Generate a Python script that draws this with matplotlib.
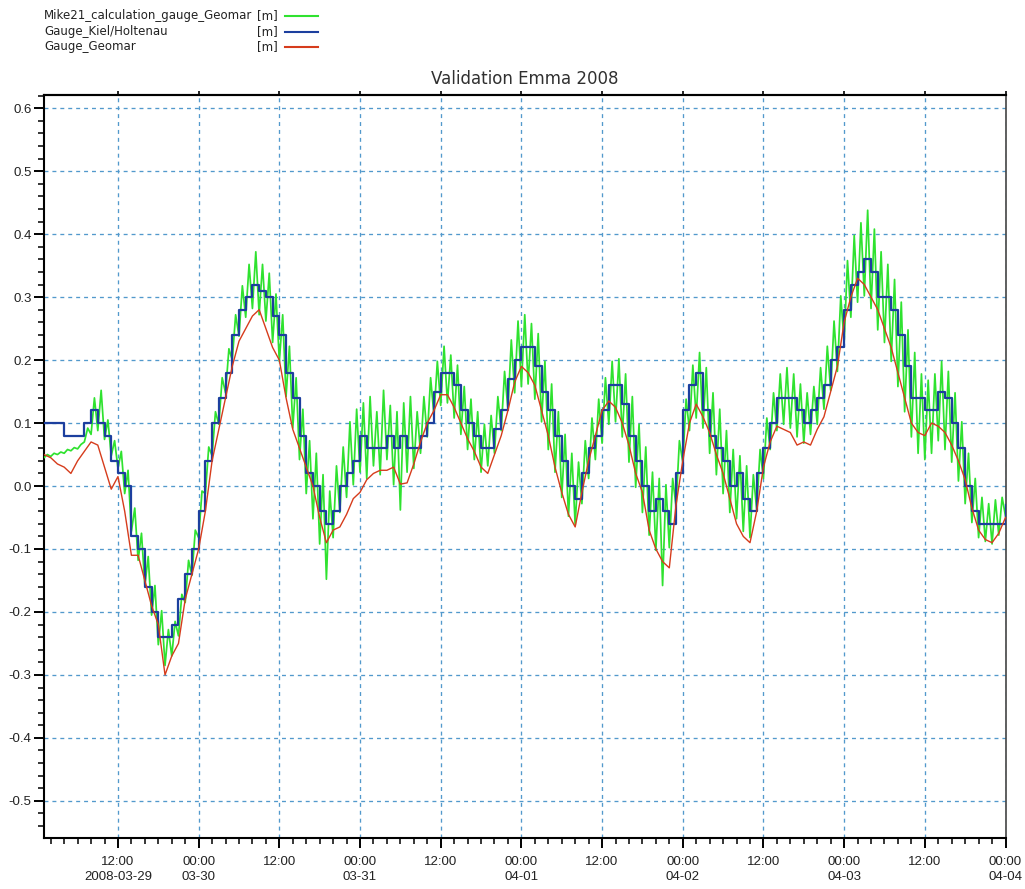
import pandas as pd
import matplotlib
matplotlib.use("Agg")
import matplotlib.pyplot as plt
import matplotlib.dates as mdates
from matplotlib.lines import Line2D
from matplotlib.ticker import MultipleLocator, FuncFormatter

plt.rcParams["axes.unicode_minus"] = False

# Water level [m], hourly, 2008-03-29 01:00 .. 2008-04-04 00:00
kiel_holtenau = [
    0.10, 0.10, 0.10, 0.08, 0.08, 0.08, 0.10, 0.12, 0.10, 0.08,
    0.04, 0.02, 0.00, -0.08, -0.10, -0.16, -0.20, -0.24, -0.24, -0.22,
    -0.18, -0.14, -0.10, -0.04, 0.04, 0.10, 0.14, 0.18, 0.24, 0.28,
    0.30, 0.32, 0.31, 0.30, 0.27, 0.24, 0.18, 0.14, 0.08, 0.02,
    0.00, -0.04, -0.06, -0.04, 0.00, 0.02, 0.04, 0.08, 0.06, 0.06,
    0.06, 0.08, 0.06, 0.08, 0.06, 0.06, 0.08, 0.10, 0.15, 0.18,
    0.18, 0.16, 0.12, 0.10, 0.08, 0.06, 0.06, 0.09, 0.12, 0.17,
    0.20, 0.22, 0.22, 0.19, 0.15, 0.12, 0.08, 0.04, 0.00, -0.02,
    0.02, 0.06, 0.08, 0.12, 0.16, 0.16, 0.13, 0.08, 0.04, 0.00,
    -0.04, -0.02, -0.04, -0.06, 0.02, 0.12, 0.16, 0.18, 0.12, 0.08,
    0.06, 0.04, 0.00, 0.02, -0.02, -0.04, 0.02, 0.06, 0.10, 0.14,
    0.14, 0.14, 0.12, 0.10, 0.12, 0.14, 0.16, 0.20, 0.22, 0.28,
    0.32, 0.34, 0.36, 0.34, 0.30, 0.30, 0.28, 0.24, 0.19, 0.14,
    0.14, 0.12, 0.12, 0.15, 0.14, 0.10, 0.06, 0.00, -0.04, -0.06,
    -0.06, -0.06, -0.06, -0.03,
]

gauge_geomar = [
    0.050, 0.045, 0.035, 0.030, 0.020, 0.040, 0.055, 0.070, 0.065, 0.030,
    -0.005, 0.015, -0.040, -0.110, -0.110, -0.150, -0.190, -0.220, -0.300, -0.270,
    -0.250, -0.180, -0.140, -0.100, -0.040, 0.040, 0.090, 0.140, 0.190, 0.230,
    0.250, 0.270, 0.280, 0.250, 0.220, 0.200, 0.140, 0.090, 0.060, 0.030,
    0.000, -0.050, -0.090, -0.070, -0.065, -0.045, -0.020, -0.010, 0.010, 0.020,
    0.025, 0.025, 0.030, 0.003, 0.005, 0.035, 0.070, 0.100, 0.120, 0.145,
    0.145, 0.125, 0.100, 0.075, 0.055, 0.030, 0.020, 0.050, 0.080, 0.120,
    0.165, 0.190, 0.180, 0.160, 0.120, 0.080, 0.030, -0.010, -0.045, -0.065,
    -0.010, 0.040, 0.080, 0.120, 0.135, 0.125, 0.100, 0.065, 0.020, -0.010,
    -0.070, -0.100, -0.120, -0.130, -0.030, 0.040, 0.100, 0.130, 0.110, 0.085,
    0.050, 0.020, -0.020, -0.060, -0.080, -0.090, -0.040, 0.030, 0.070, 0.095,
    0.090, 0.085, 0.065, 0.070, 0.065, 0.090, 0.110, 0.150, 0.190, 0.260,
    0.300, 0.330, 0.320, 0.300, 0.280, 0.250, 0.220, 0.180, 0.140, 0.100,
    0.085, 0.080, 0.100, 0.095, 0.085, 0.065, 0.040, 0.010, -0.035, -0.070,
    -0.085, -0.090, -0.075, -0.050,
]

# Model output [m], half-hourly over the same period
mike21_geomar = [
    0.045, 0.050, 0.047, 0.052, 0.050, 0.054, 0.052, 0.058, 0.056, 0.061,
    0.059, 0.066, 0.070, 0.092, 0.082, 0.140, 0.088, 0.152, 0.074, 0.105,
    0.048, 0.072, 0.028, 0.055, -0.012, 0.025, -0.072, -0.035, -0.118, -0.075,
    -0.158, -0.112, -0.205, -0.158, -0.252, -0.198, -0.285, -0.228, -0.270, -0.215,
    -0.238, -0.172, -0.185, -0.118, -0.142, -0.070, -0.082, -0.008, -0.012, 0.062,
    0.048, 0.118, 0.098, 0.172, 0.148, 0.218, 0.200, 0.272, 0.238, 0.318,
    0.268, 0.352, 0.282, 0.372, 0.272, 0.352, 0.262, 0.338, 0.228, 0.305,
    0.198, 0.272, 0.142, 0.222, 0.092, 0.172, 0.042, 0.122, -0.012, 0.072,
    -0.052, 0.052, -0.092, 0.018, -0.148, -0.008, -0.082, 0.032, -0.042, 0.062,
    -0.018, 0.102, 0.002, 0.122, 0.022, 0.132, 0.012, 0.142, 0.032, 0.118,
    0.018, 0.152, 0.042, 0.128, 0.002, 0.118, -0.038, 0.132, 0.022, 0.142,
    0.028, 0.118, 0.052, 0.142, 0.078, 0.172, 0.112, 0.198, 0.128, 0.222,
    0.132, 0.208, 0.108, 0.192, 0.082, 0.158, 0.058, 0.138, 0.042, 0.118,
    0.022, 0.098, 0.032, 0.112, 0.052, 0.142, 0.088, 0.182, 0.122, 0.232,
    0.148, 0.262, 0.158, 0.272, 0.162, 0.258, 0.138, 0.242, 0.102, 0.198,
    0.058, 0.162, 0.022, 0.118, -0.018, 0.082, -0.048, 0.052, -0.062, 0.038,
    -0.028, 0.072, 0.012, 0.108, 0.042, 0.138, 0.068, 0.172, 0.098, 0.198,
    0.102, 0.202, 0.078, 0.178, 0.038, 0.142, -0.002, 0.098, -0.042, 0.062,
    -0.078, 0.022, -0.102, 0.012, -0.158, 0.002, -0.098, 0.012, -0.032, 0.072,
    0.038, 0.138, 0.088, 0.192, 0.108, 0.212, 0.092, 0.188, 0.052, 0.148,
    0.018, 0.122, -0.012, 0.088, -0.042, 0.058, -0.052, 0.048, -0.072, 0.032,
    -0.082, 0.018, -0.038, 0.058, 0.012, 0.108, 0.058, 0.148, 0.088, 0.178,
    0.098, 0.188, 0.092, 0.178, 0.078, 0.162, 0.068, 0.148, 0.082, 0.158,
    0.098, 0.188, 0.122, 0.222, 0.152, 0.262, 0.182, 0.302, 0.228, 0.358,
    0.268, 0.398, 0.292, 0.418, 0.302, 0.438, 0.282, 0.408, 0.248, 0.372,
    0.228, 0.352, 0.198, 0.328, 0.158, 0.292, 0.118, 0.248, 0.078, 0.212,
    0.052, 0.178, 0.042, 0.168, 0.052, 0.178, 0.072, 0.198, 0.058, 0.182,
    0.038, 0.148, 0.008, 0.102, -0.028, 0.052, -0.058, 0.012, -0.082, -0.018,
    -0.088, -0.028, -0.092, -0.022, -0.078, -0.018, -0.048,
]

series_names = ["Mike21_calculation_gauge_Geomar", "Gauge_Kiel/Holtenau", "Gauge_Geomar"]
series_units = ["[m]", "[m]", "[m]"]
chart_title = "Validation Emma 2008"

t_hourly = pd.date_range("2008-03-29 01:00", "2008-04-04 00:00", freq="h")
t_half = pd.date_range("2008-03-29 01:00", "2008-04-04 00:00", freq="30min")

GREEN = "#2fe22f"
BLUE = "#1c3f9e"
RED = "#d63c1c"
GRID = "#5299cc"
TICK_FONT = ["Liberation Sans", "DejaVu Sans"]

W, H = 1025, 889
fig = plt.figure(figsize=(W / 100, H / 100), dpi=100)
left_px, right_px, top_px, bottom_px = 44, 1005.5, 95, 838
ax = fig.add_axes([left_px / W, 1 - bottom_px / H,
                   (right_px - left_px) / W, (bottom_px - top_px) / H])

ax.plot(t_half, mike21_geomar, color=GREEN, lw=1.25, zorder=3)
ax.plot(t_hourly, kiel_holtenau, color=BLUE, lw=1.6, drawstyle="steps-post", zorder=4)
ax.plot(t_hourly, gauge_geomar, color=RED, lw=1.0, zorder=5)

ax.set_xlim(pd.Timestamp("2008-03-29 01:00"), pd.Timestamp("2008-04-04 00:00"))
ax.set_ylim(-0.559, 0.621)

ax.xaxis.set_major_locator(mdates.HourLocator(byhour=[0, 12]))
ax.xaxis.set_minor_locator(mdates.HourLocator(byhour=range(0, 24, 2)))


def time_label(x, pos):
    dt = mdates.num2date(x)
    if dt.hour == 12:
        if dt.strftime("%Y-%m-%d") == "2008-03-29":
            return "12:00\n2008-03-29"
        return "12:00"
    return "00:00\n" + dt.strftime("%m-%d")


ax.xaxis.set_major_formatter(FuncFormatter(time_label))
ax.yaxis.set_major_locator(MultipleLocator(0.1))
ax.yaxis.set_minor_locator(MultipleLocator(0.02))
ax.yaxis.set_major_formatter(FuncFormatter(lambda v, p: f"{v:.1f}"))

ax.grid(which="major", color=GRID, linestyle=(0, (3, 3)), lw=0.95)
ax.set_axisbelow(True)

ax.tick_params(axis="both", which="major", direction="out", length=7, width=1.4,
               colors="black", labelsize=9.5, pad=2)
ax.tick_params(axis="both", which="minor", direction="out", length=4, width=1.1,
               colors="black")
ax.tick_params(axis="x", which="major", pad=6)
for lab in ax.get_xticklabels() + ax.get_yticklabels():
    lab.set_family(TICK_FONT)
    lab.set_color("#222222")
    lab.set_linespacing(1.3)

for side in ["left", "bottom", "top"]:
    ax.spines[side].set_linewidth(1.5)
    ax.spines[side].set_color("black")
ax.spines["right"].set_linewidth(1.2)
ax.spines["right"].set_color("#444444")

top_ax = ax.secondary_xaxis("top")
top_ax.xaxis.set_major_locator(mdates.HourLocator(byhour=[0, 12]))
top_ax.tick_params(axis="x", which="major", direction="out", length=3, width=1.2,
                   labeltop=False)
top_ax.tick_params(axis="x", which="minor", length=0)
top_ax.spines["top"].set_linewidth(1.5)

ax.set_title(chart_title, fontsize=12, color="#303030", pad=8)

# legend block above the plot
row_y = [15.7, 31.7, 46.7]
colors = [GREEN, BLUE, RED]
for name, unit, color, y in zip(series_names, series_units, colors, row_y):
    fy = 1 - y / H
    fig.text(44 / W, fy, name, fontsize=8.5, va="center", ha="left", color="#222222")
    fig.text(257 / W, fy, unit, fontsize=8.5, va="center", ha="left", color="#222222")
    fig.add_artist(Line2D([285 / W, 318 / W], [fy, fy], color=color, lw=1.5,
                          transform=fig.transFigure))

fig.savefig("out.png", dpi=100)
